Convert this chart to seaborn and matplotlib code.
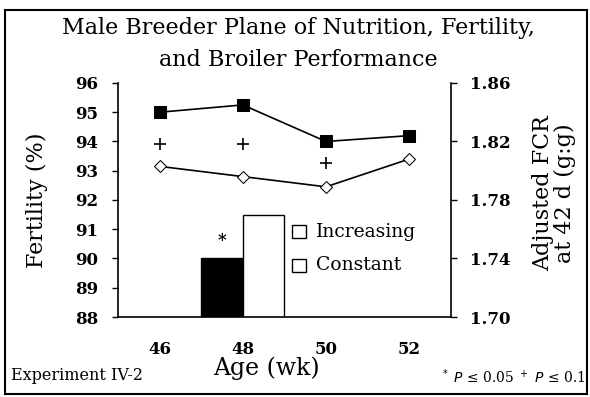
import matplotlib
matplotlib.use("Agg")
import matplotlib.pyplot as plt
import seaborn as sns
import pandas as pd
import numpy as np
from matplotlib.patches import Rectangle

sns.set_style("white")
plt.rcParams['font.family'] = ['DejaVu Serif']
plt.rcParams.update({"text.color": "black", "axes.labelcolor": "black",
                     "xtick.color": "black", "ytick.color": "black"})

# Data
ages = ["46", "48", "50", "52"]
fert_increasing = [np.nan, 90.0, np.nan, np.nan]
fert_constant = [np.nan, 91.5, np.nan, np.nan]
fcr_squares = [1.840, 1.845, 1.820, 1.824]
fcr_diamonds = [1.803, 1.796, 1.789, 1.808]
plus_ages = ["46", "48", "50"]
plus_fcr = [1.818, 1.818, 1.805]
star_age = "48"
star_value = 90.0

bars = pd.DataFrame({
    "Age": ages * 2,
    "Fertility": fert_increasing + fert_constant,
    "Plane": ["Increasing"] * 4 + ["Constant"] * 4,
})

fig = plt.figure(figsize=(5.90, 3.97), dpi=100)
ax = fig.add_axes([0.2, 0.2015, 0.564, 0.5895])

sns.barplot(data=bars, x="Age", y="Fertility", hue="Plane", order=ages,
            hue_order=["Increasing", "Constant"],
            palette={"Increasing": "black", "Constant": "white"},
            width=1.0, gap=0, edgecolor="black", linewidth=1.0,
            legend=False, ax=ax)

ax.set_ylim(88, 96)
ax.set_xlim(-0.5, 3.5)
ax.set_yticks(range(88, 97))
ax.set_xticks(np.arange(-0.5, 3.6, 1.0), minor=False)
ax.set_xticklabels([])
ax.set_xticks(range(4), minor=True)
ax.set_xticklabels(ages, minor=True, fontsize=12, fontweight="bold")
ax.tick_params(axis="x", which="major", direction="out", length=4, width=1)
ax.tick_params(axis="x", which="minor", length=0, pad=17)
ax.tick_params(axis="y", direction="out", length=4, width=1, labelsize=12, pad=10)
for t in ax.get_yticklabels():
    t.set_fontweight("bold")
ax.set_xlabel("Age (wk)", fontsize=17)
ax.xaxis.set_label_coords(0.447, -0.17)
ax.set_ylabel("Fertility (%)", fontsize=16)
ax.yaxis.set_label_coords(-0.21, 0.5)
for side in ["top", "right"]:
    ax.spines[side].set_visible(False)
for side in ["left", "bottom"]:
    ax.spines[side].set_color("black")
    ax.spines[side].set_linewidth(1.2)

# significance marker above the bar
xi = ages.index(star_age) - 0.25
ax.text(xi, star_value + 0.6, "*", ha="center", va="center", fontsize=12, fontweight="bold")

# Feed conversion on the right axis
ax2 = ax.twinx()
xpos = np.arange(len(ages))
sns.lineplot(x=xpos, y=fcr_squares, ax=ax2, color="black", marker="s",
             markersize=8, markerfacecolor="black", markeredgecolor="black", linewidth=1.2)
sns.lineplot(x=xpos, y=fcr_diamonds, ax=ax2, color="black", marker="D",
             markersize=6, markerfacecolor="white", markeredgecolor="black", linewidth=1.2)
ppos = [ages.index(a) for a in plus_ages]
ax2.scatter(ppos, plus_fcr, marker="+", s=70, color="black", linewidths=1.2, zorder=5)
ax2.set_ylim(1.70, 1.86)
ax2.set_yticks([1.70, 1.74, 1.78, 1.82, 1.86])
ax2.set_yticklabels(["1.70", "1.74", "1.78", "1.82", "1.86"], fontsize=12, fontweight="bold")
ax2.tick_params(axis="y", direction="out", length=4, width=1, pad=10)
ax2.set_ylabel("Adjusted FCR\nat 42 d (g:g)", fontsize=16, linespacing=1.0)
ax2.yaxis.set_label_coords(1.245, 0.53)
for side in ["top", "left", "bottom"]:
    ax2.spines[side].set_visible(False)
ax2.spines["right"].set_color("black")
ax2.spines["right"].set_linewidth(1.2)
ax2.set_xlim(-0.5, 3.5)

# Legend (open boxes)
for lbl, yy in [("Increasing", 0.416), ("Constant", 0.332)]:
    fig.patches.append(Rectangle((0.495, yy - 0.0165), 0.024, 0.033, transform=fig.transFigure,
                                 facecolor="white", edgecolor="black", linewidth=1.0))
    fig.text(0.535, yy, lbl, fontsize=13.5, va="center", ha="left")

# Title and notes
fig.text(0.505, 0.93, "Male Breeder Plane of Nutrition, Fertility,", ha="center",
         va="center", fontsize=16)
fig.text(0.505, 0.85, "and Broiler Performance", ha="center", va="center", fontsize=16)
fig.text(0.018, 0.055, "Experiment IV-2", fontsize=11.5, va="center", ha="left")
fig.text(0.992, 0.05, r"$^*$ $P$ ≤ 0.05 $^+$ $P$ ≤ 0.1", fontsize=10, va="center", ha="right")

# Frame around the figure
fig.patches.append(Rectangle((0.008, 0.008), 0.987, 0.967, transform=fig.transFigure,
                             fill=False, edgecolor="black", linewidth=1.5))

fig.savefig("out.png", dpi=100)
